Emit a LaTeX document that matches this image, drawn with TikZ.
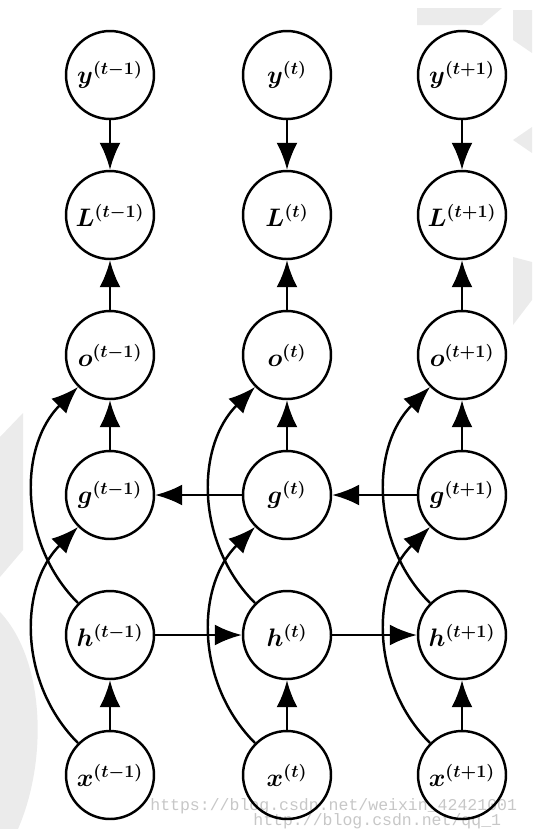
\documentclass[tikz,border=0pt]{standalone}
\usepackage{amsmath}
\usepackage{bm}
\usepackage{fontspec}
\newfontfamily\markfont{Liberation Mono}
\usetikzlibrary{arrows.meta}
\tikzstyle{unit}=[draw,shape=circle,line width=1.4pt,minimum size=1.76cm,inner sep=0pt,font=\fontsize{14}{16}\selectfont\boldmath]
\tikzstyle{flow}=[line width=1.4pt,-{Latex[length=0.54cm,width=0.42cm]}]
\tikzstyle{shade}=[fill=black!8,draw=none]
\tikzstyle{marktext}=[font=\markfont\fontsize{9.4}{10}\selectfont,text=black!22,anchor=west,inner sep=0pt]

\begin{document}
\begin{tikzpicture}[x=0.02cm,y=-0.02cm]
\useasboundingbox (0,0) rectangle (532,829);
\clip (0,0) rectangle (532,829);

% watermark
\fill[shade] (417,8) -- (502,8) -- (482,25) -- (417,25) -- cycle;
\fill[shade] (513,10) -- (532,10) -- (532,53) -- (513,40) -- cycle;
\fill[shade] (513,140) -- (532,127) -- (532,153) -- cycle;
\fill[shade] (513,257) -- (532,262) -- (532,300) -- (513,325) -- cycle;
\fill[shade] (0,437) -- (23,413) -- (23,550) -- (0,577) -- cycle;
\fill[shade] (0,612) .. controls (45,660) and (48,760) .. (18,829) -- (0,829) -- cycle;
\node[marktext] (mark1) at (150,806) {https://blog.csdn.net/weixin\_42421001};
\node[marktext] (mark2) at (253,821) {http://blog.csdn.net/qq\_1};

% column t-1
\node[unit] (y1) at (110,75) {$\bm{y}^{(t-1)}$};
\node[unit] (L1) at (110,215) {$L^{(t-1)}$};
\node[unit] (o1) at (110,355) {$\bm{o}^{(t-1)}$};
\node[unit] (g1) at (110,495) {$\bm{g}^{(t-1)}$};
\node[unit] (h1) at (110,635) {$\bm{h}^{(t-1)}$};
\node[unit] (x1) at (110,775) {$\bm{x}^{(t-1)}$};

% column t
\node[unit] (y2) at (287,75) {$\bm{y}^{(t)}$};
\node[unit] (L2) at (287,215) {$L^{(t)}$};
\node[unit] (o2) at (287,355) {$\bm{o}^{(t)}$};
\node[unit] (g2) at (287,495) {$\bm{g}^{(t)}$};
\node[unit] (h2) at (287,635) {$\bm{h}^{(t)}$};
\node[unit] (x2) at (287,775) {$\bm{x}^{(t)}$};

% column t+1
\node[unit] (y3) at (462,75) {$\bm{y}^{(t+1)}$};
\node[unit] (L3) at (462,215) {$L^{(t+1)}$};
\node[unit] (o3) at (462,355) {$\bm{o}^{(t+1)}$};
\node[unit] (g3) at (462,495) {$\bm{g}^{(t+1)}$};
\node[unit] (h3) at (462,635) {$\bm{h}^{(t+1)}$};
\node[unit] (x3) at (462,775) {$\bm{x}^{(t+1)}$};

\draw[flow] (y1) -- (L1);
\draw[flow] (o1) -- (L1);
\draw[flow] (g1) -- (o1);
\draw[flow] (x1) -- (h1);
\draw[flow] (h1.135) to[bend left=45] (o1.225);
\draw[flow] (x1.135) to[bend left=45] (g1.225);

\draw[flow] (y2) -- (L2);
\draw[flow] (o2) -- (L2);
\draw[flow] (g2) -- (o2);
\draw[flow] (x2) -- (h2);
\draw[flow] (h2.135) to[bend left=45] (o2.225);
\draw[flow] (x2.135) to[bend left=45] (g2.225);

\draw[flow] (y3) -- (L3);
\draw[flow] (o3) -- (L3);
\draw[flow] (g3) -- (o3);
\draw[flow] (x3) -- (h3);
\draw[flow] (h3.135) to[bend left=45] (o3.225);
\draw[flow] (x3.135) to[bend left=45] (g3.225);

\draw[flow] (h1) -- (h2);
\draw[flow] (h2) -- (h3);
\draw[flow] (g2) -- (g1);
\draw[flow] (g3) -- (g2);

\end{tikzpicture}
\end{document}
